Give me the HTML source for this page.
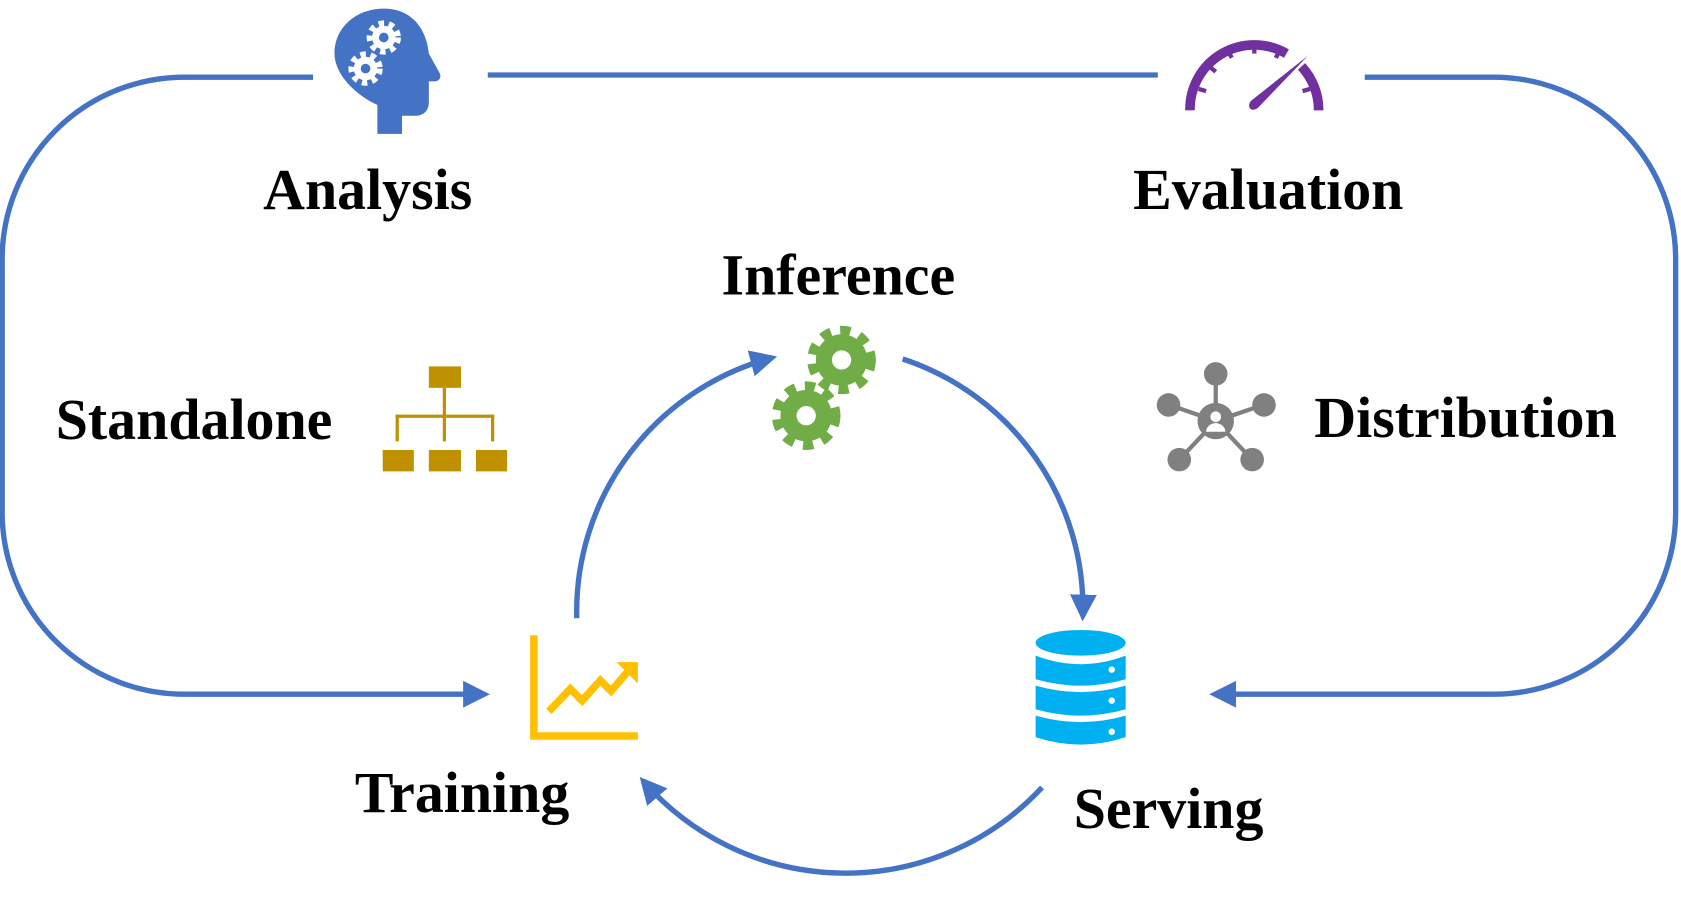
<!DOCTYPE html>
<html><head><meta charset="utf-8"><style>
html,body{margin:0;padding:0;background:#fff;}
svg{display:block;}
text{font-family:"Liberation Serif",serif;font-weight:bold;font-size:54px;fill:#000;}
</style></head><body>
<svg width="1681" height="901" viewBox="0 0 1568 841" preserveAspectRatio="none" xmlns="http://www.w3.org/2000/svg">
<defs>
<marker id="ah" viewBox="0 0 10 10" refX="8" refY="5" markerWidth="5" markerHeight="5" orient="auto" markerUnits="strokeWidth">
<path d="M0,0 L10,5 L0,10 z" fill="#4472C4"/></marker>
</defs>
<g fill="none" stroke="#4472C4" stroke-width="5">
<path d="M292,72 H172 A170,170 0 0 0 2,242 V480 A170,170 0 0 0 172,648 H452" marker-end="url(#ah)"/>
<path d="M1273,72 H1393 A170,170 0 0 1 1563,242 V480 A170,170 0 0 1 1393,648 H1133" marker-end="url(#ah)"/>
<path d="M455,70 H1080"/>
<path d="M538,577 A245,245 0 0 1 720,334" marker-end="url(#ah)"/>
<path d="M842,335 A245,245 0 0 1 1010,575" marker-end="url(#ah)"/>
<path d="M972,735 A250,250 0 0 1 600,729" marker-end="url(#ah)"/>
</g>
<!-- head -->
<path fill="#4472C4" d="M352,125 V98 C325,85 312,65 312,50 C312,25 333,8 358,8 C385,8 398,28 400,50 L410,68 C412,72 410,76 405,76 L400,76 V96 C400,103 395,108 388,108 L375,108 V125 Z"/>
<g fill="#fff"><circle cx="358" cy="35" r="11"/><circle cx="341" cy="64" r="11"/></g>
<g fill="none" stroke="#fff" stroke-width="6" stroke-dasharray="5 4.4">
<circle cx="358" cy="35" r="13"/><circle cx="341" cy="64" r="13"/></g>
<g fill="#4472C4"><circle cx="358" cy="35" r="4.5"/><circle cx="341" cy="64" r="4.5"/></g>
<!-- gauge -->
<g fill="none" stroke="#7030A0" stroke-width="9">
<path d="M1110,103 A60,60 0 0 1 1200,50"/>
<path d="M1214,62 A60,60 0 0 1 1230,103"/>
</g>
<g stroke="#7030A0" stroke-width="4">
<line x1="1118" y1="83" x2="1125" y2="85"/><line x1="1128" y1="62" x2="1134" y2="67"/>
<line x1="1145" y1="47" x2="1149" y2="54"/><line x1="1170" y1="42" x2="1170" y2="50"/>
<line x1="1194" y1="47" x2="1190" y2="54"/><line x1="1222" y1="83" x2="1215" y2="85"/>
</g>
<path d="M1220,52 L1174,100 C1168,106 1162,100 1167,94 Z" fill="#7030A0"/>
<!-- gears -->
<g fill="#70AD47"><circle cx="785" cy="336" r="24"/><circle cx="752" cy="388" r="24"/></g>
<g fill="none" stroke="#70AD47" stroke-width="12" stroke-dasharray="9 8.3">
<circle cx="785" cy="336" r="26"/><circle cx="752" cy="388" r="26"/></g>
<g fill="#fff"><circle cx="785" cy="336" r="9"/><circle cx="752" cy="388" r="9"/></g>
<!-- org chart -->
<g fill="#BF9000">
<rect x="400" y="342" width="30" height="20"/>
<rect x="357" y="420" width="29" height="20"/><rect x="400" y="420" width="30" height="20"/><rect x="444" y="420" width="29" height="20"/>
<rect x="413" y="362" width="3" height="50"/><rect x="369" y="387" width="92" height="3"/>
<rect x="369" y="387" width="3" height="25"/><rect x="458" y="387" width="3" height="25"/>
</g>
<!-- network -->
<g stroke="#808080" stroke-width="4" fill="none">
<line x1="1134" y1="393" x2="1134" y2="350"/><line x1="1134" y1="393" x2="1091" y2="378"/><line x1="1134" y1="393" x2="1178" y2="378"/>
<line x1="1134" y1="393" x2="1101" y2="428"/><line x1="1134" y1="393" x2="1167" y2="428"/>
</g>
<g fill="#808080">
<circle cx="1134" cy="349" r="11"/><circle cx="1090" cy="378" r="11"/><circle cx="1179" cy="378" r="11"/>
<circle cx="1100" cy="429" r="11"/><circle cx="1168" cy="429" r="11"/><circle cx="1134" cy="393" r="17"/>
</g>
<circle cx="1134" cy="389" r="5" fill="#fff"/><path d="M1125,403 A9,8 0 0 1 1143,403 Z" fill="#fff"/>
<!-- chart -->
<g fill="none" stroke="#FFC000" stroke-width="7">
<path d="M498,593 V687 H595"/>
<path d="M512,664 L532,643 L543,654 L560,635 L570,645 L588,624"/>
</g>
<path d="M595,618 L595,638 L575,618 Z" fill="#FFC000"/>
<!-- database -->
<g fill="#00B0F0">
<ellipse cx="1008" cy="600" rx="42" ry="12"/>
<path d="M966,612 Q1008,628 1050,612 V634 Q1008,646 966,634 Z"/>
<path d="M966,640 Q1008,652 1050,640 V662 Q1008,674 966,662 Z"/>
<path d="M966,668 Q1008,680 1050,668 V688 Q1008,702 966,688 Z"/>
</g>
<g fill="#fff"><circle cx="1037" cy="625" r="3"/><circle cx="1037" cy="654" r="3"/><circle cx="1037" cy="683" r="3"/></g>
<!-- labels -->
<text x="343" y="195" text-anchor="middle">Analysis</text>
<text x="1183" y="195" text-anchor="middle">Evaluation</text>
<text x="782" y="275" text-anchor="middle">Inference</text>
<text x="181" y="410" text-anchor="middle">Standalone</text>
<text x="1367" y="408" text-anchor="middle">Distribution</text>
<text x="431" y="758" text-anchor="middle">Training</text>
<text x="1090" y="773" text-anchor="middle">Serving</text>
</svg>
</body></html>
